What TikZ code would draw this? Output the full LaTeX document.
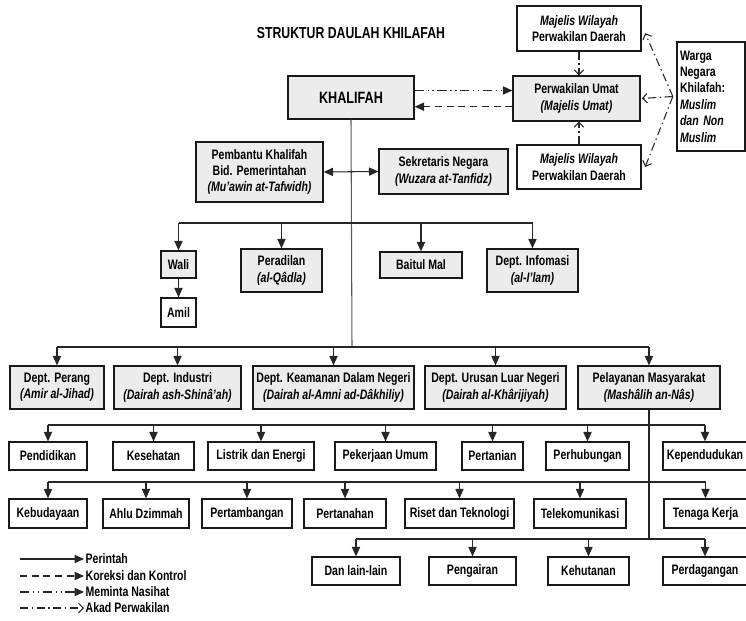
\documentclass[tikz,border=0pt]{standalone}
\usepackage{fontspec}
\setmainfont[FakeStretch=0.77]{Liberation Sans}
\usetikzlibrary{arrows.meta}

\begin{document}
\begin{tikzpicture}[x=0.03cm,y=-0.03cm,line width=0.8pt,
  box/.style={draw=black!90,line width=1.1pt,fill=white,align=center,inner sep=1pt,font=\fontsize{11.7}{14}\selectfont\bfseries},
  gbox/.style={box,fill=gray!15},
  wh/.style 2 args={minimum width=#1*0.03cm,minimum height=#2*0.03cm},
  conn/.style={draw=black!85,line width=0.9pt},
  perintah/.style={conn,-{Triangle[length=8pt,width=7pt]}},
  koreksi/.style={perintah,dash pattern=on 6pt off 4pt},
  nasihat/.style={perintah,dash pattern=on 8pt off 3pt on 1.2pt off 3pt on 1.2pt off 3pt},
  akad/.style={conn,dash pattern=on 7pt off 3pt on 1.2pt off 3pt,-{Straight Barb[length=4pt,width=8pt]}},
  legtext/.style={anchor=west,inner sep=1pt,font=\fontsize{11.7}{13}\selectfont\bfseries}]
\useasboundingbox (0,0) rectangle (746,621);
%%%%%%%%%%%%%%%%%%%% khalifah and the majelis %%%%%%%%%%%%%%%%%%%%
\node[font=\fontsize{13.6}{15}\selectfont\bfseries] (title) at (351,33) {STRUKTUR DAULAH KHILAFAH};
\node[gbox,wh={126}{43},font=\fontsize{14}{16}\selectfont\bfseries] (khal) at (351,97.5) {KHALIFAH};
\node[gbox,wh={127}{45}] (pu) at (576.5,98.5) {Perwakilan Umat\\\textit{(Majelis Umat)}};
\node[box,wh={124}{45}] (mw1) at (579,28.5) {\textit{Majelis Wilayah}\\Perwakilan Daerah};
\node[box,wh={124}{44}] (mw2) at (579,167) {\textit{Majelis Wilayah}\\Perwakilan Daerah};
\node[box,wh={68}{109},align=left,text width=1.86cm,inner xsep=0.09cm] (warga) at (711,96.5)
  {Warga\\Negara\\Khilafah:\\\textit{Muslim}\\\textit{dan Non}\\\textit{Muslim}};
\coordinate (wf) at ([xshift=-3pt]warga.west);
\draw[nasihat] ([yshift=6pt]khal.east) -- ([yshift=6pt]khal.east -| pu.west);
\draw[koreksi] ([yshift=-7pt]pu.west) -- ([yshift=-7pt]pu.west -| khal.east);
\draw[akad] (mw1.south) -- (mw1.south |- pu.north);
\draw[akad] (mw2.north) -- (mw2.north |- pu.south);
\draw[akad] (wf) -- ([xshift=3pt,yshift=-4pt]mw1.east);
\draw[akad] (wf) -- ([xshift=1pt]pu.east);
\draw[akad] (wf) -- ([xshift=3pt]mw2.east);
%%%%%%%%%%%%%%%%%%%% pembantu, sekretaris and the trunk %%%%%%%%%%%%%%%%%%%%
\node[gbox,wh={127}{60}] (pemb) at (259.5,172) {Pembantu Khalifah\\Bid. Pemerintahan\\\textit{(Mu'awin at-Tafwidh)}};
\node[gbox,wh={129}{45}] (sekr) at (443.5,171.5) {Sekretaris Negara\\\textit{(Wuzara at-Tanfidz)}};
\coordinate (b1) at (352,223);
\coordinate (b2) at (352,347);
\draw[conn,draw=black!65] (khal.south) -- (b2);
\draw[perintah,{Triangle[length=8pt,width=7pt]}-{Triangle[length=8pt,width=7pt]}] (pemb.east) -- (sekr.west);
%%%%%%%%%%%%%%%%%%%% wali, peradilan, baitul mal %%%%%%%%%%%%%%%%%%%%
\node[gbox,wh={35}{27}] (wali) at (178.5,264.5) {Wali};
\node[box,wh={35}{29}] (amil) at (178.5,312.5) {Amil};
\node[gbox,wh={81}{43}] (pera) at (281.5,270.5) {Peradilan\\\textit{(al-Qâdla)}};
\node[gbox,wh={82}{26}] (bmal) at (421,265) {Baitul Mal};
\node[gbox,wh={91}{43}] (info) at (532.5,270.5) {Dept. Infomasi\\\textit{(al-I'lam)}};
\draw[conn] (wali.north |- b1) -- (info.north |- b1);
\foreach \n in {wali,pera,bmal,info}
  \draw[perintah] (\n.north |- b1) -- (\n.north);
\draw[perintah] (wali) -- (amil);
%%%%%%%%%%%%%%%%%%%% departemen %%%%%%%%%%%%%%%%%%%%
\node[gbox,wh={94}{43}] (perang) at (57,387.5) {Dept. Perang\\\textit{(Amir al-Jihad)}};
\node[gbox,wh={127}{43}] (indus) at (177.5,387.5) {Dept. Industri\\\textit{(Dairah ash-Shinâ'ah)}};
\node[gbox,wh={161}{43}] (keam) at (333.5,387.5) {Dept. Keamanan Dalam Negeri\\\textit{(Dairah al-Amni ad-Dâkhiliy)}};
\node[gbox,wh={141}{43}] (luar) at (495.5,387.5) {Dept. Urusan Luar Negeri\\\textit{(Dairah al-Khârijiyah)}};
\node[gbox,wh={142}{43}] (pel) at (649,387.5) {Pelayanan Masyarakat\\\textit{(Mashâlih an-Nâs)}};
\draw[conn] (perang.north |- b2) -- (pel.north |- b2);
\foreach \n in {perang,indus,keam,luar,pel}
  \draw[perintah] (\n.north |- b2) -- (\n.north);
%%%%%%%%%%%%%%%%%%%% pelayanan masyarakat %%%%%%%%%%%%%%%%%%%%
\coordinate (b3) at (0,425);
\coordinate (b4) at (0,482);
\coordinate (b5) at (0,539);
\node[box,wh={78}{28}] (pend) at (48,456) {Pendidikan};
\node[box,wh={81}{28}] (kese) at (153.5,456) {Kesehatan};
\node[box,wh={106}{28}] (list) at (261,456) {Listrik dan Energi};
\node[box,wh={101}{28}] (peke) at (385.5,456) {Pekerjaan Umum};
\node[box,wh={61}{28}] (pert) at (492.5,456) {Pertanian};
\node[box,wh={83}{28}] (perh) at (587.5,456) {Perhubungan};
\node[box,wh={84}{28}] (kepe) at (705,456) {Kependudukan};
\node[box,wh={78}{29}] (kebu) at (48,513.5) {Kebudayaan};
\node[box,wh={86}{29}] (ahlu) at (146,513.5) {Ahlu Dzimmah};
\node[box,wh={90}{29}] (ptmb) at (247,513.5) {Pertambangan};
\node[box,wh={82}{29}] (ptnh) at (345,513.5) {Pertanahan};
\node[box,wh={109}{29}] (rise) at (459.5,513.5) {Riset dan Teknologi};
\node[box,wh={92}{29}] (tele) at (580,513.5) {Telekomunikasi};
\node[box,wh={83}{29}] (tena) at (705.5,513.5) {Tenaga Kerja};
\node[box,wh={88}{28}] (dll) at (356,571) {Dan lain-lain};
\node[box,wh={87}{28}] (peng) at (472.5,571) {Pengairan};
\node[box,wh={81}{28}] (kehu) at (588.5,571) {Kehutanan};
\node[box,wh={84}{28}] (perd) at (705,571) {Perdagangan};
\draw[conn] (pel.south) -- (pel.south |- b5);
\draw[conn] (pend.north |- b3) -- (kepe.north |- b3);
\draw[conn] (kebu.north |- b4) -- (tena.north |- b4);
\draw[conn] (dll.north |- b5) -- (perd.north |- b5);
\foreach \n in {pend,kese,list,peke,pert,perh,kepe}
  \draw[perintah] (\n.north |- b3) -- (\n.north);
\foreach \n in {kebu,ahlu,ptmb,ptnh,rise,tele,tena}
  \draw[perintah] (\n.north |- b4) -- (\n.north);
\foreach \n in {dll,peng,kehu,perd}
  \draw[perintah] (\n.north |- b5) -- (\n.north);
%%%%%%%%%%%%%%%%%%%% legend %%%%%%%%%%%%%%%%%%%%
\node[legtext] (t1) at (84,559) {Perintah};
\node[legtext] (t2) at (84,576) {Koreksi dan Kontrol};
\node[legtext] (t3) at (84,592) {Meminta Nasihat};
\node[legtext] (t4) at (84,608) {Akad Perwakilan};
\coordinate (l1) at (20,559);
\coordinate (l2) at (20,576);
\coordinate (l3) at (20,592);
\coordinate (l4) at (20,608);
\draw[perintah] (l1) -- (t1.west);
\draw[koreksi] (l2) -- (t2.west);
\draw[nasihat] (l3) -- (t3.west);
\draw[akad] (l4) -- (t4.west);
\end{tikzpicture}
\end{document}
